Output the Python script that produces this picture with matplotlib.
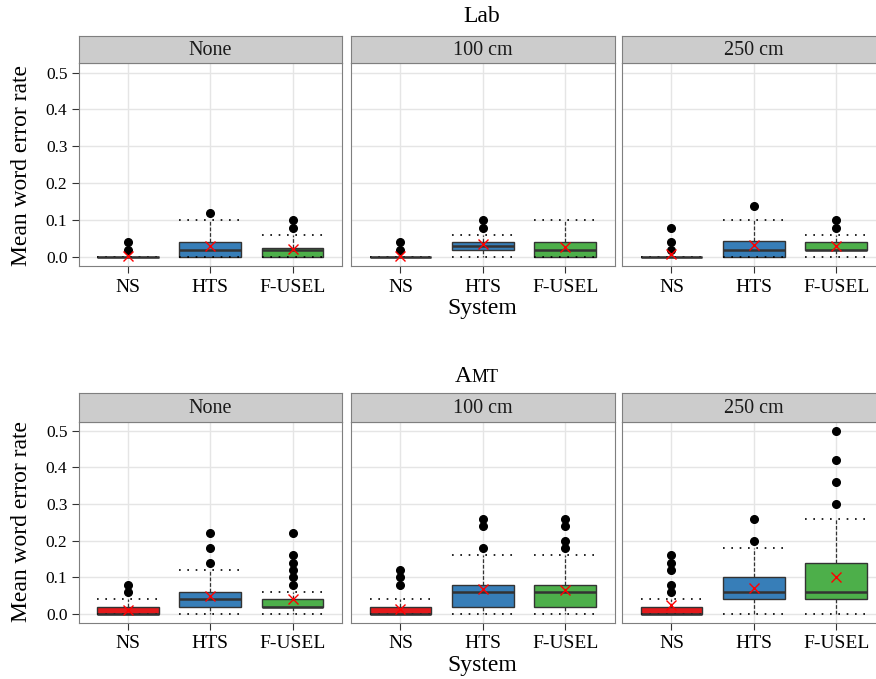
import numpy as np
import matplotlib
matplotlib.use('Agg')
import matplotlib.pyplot as plt

plt.rcParams['font.family'] = ['Liberation Serif', 'DejaVu Serif']

systems = ['NS', 'HTS', 'F-USEL']
conditions = ['None', '100 cm', '250 cm']
colors = ['#E41A1C', '#377EB8', '#4DAF4A']

# box statistics, [condition][system]
lab_q1 = [[0, 0, 0], [0, 0.02, 0], [0, 0, 0.02]]
lab_med = [[0, 0.02, 0.02], [0, 0.03, 0.02], [0, 0.02, 0.02]]
lab_q3 = [[0, 0.04, 0.025], [0, 0.04, 0.04], [0, 0.045, 0.04]]
lab_lo = [[0, 0, 0], [0, 0, 0], [0, 0, 0]]
lab_hi = [[0, 0.10, 0.06], [0, 0.06, 0.10], [0, 0.10, 0.06]]
lab_mean = [[0.004, 0.03, 0.022], [0.003, 0.036, 0.027], [0.008, 0.033, 0.03]]
lab_out = [[[0.02, 0.04], [0.12], [0.08, 0.10]],
           [[0.02, 0.04], [0.08, 0.10], []],
           [[0.02, 0.04, 0.08], [0.14], [0.08, 0.10]]]

amt_q1 = [[0, 0.02, 0.02], [0, 0.02, 0.02], [0, 0.04, 0.04]]
amt_med = [[0, 0.04, 0.02], [0, 0.06, 0.06], [0, 0.06, 0.06]]
amt_q3 = [[0.02, 0.06, 0.04], [0.02, 0.08, 0.08], [0.02, 0.10, 0.14]]
amt_lo = [[0, 0, 0], [0, 0, 0], [0, 0, 0]]
amt_hi = [[0.04, 0.12, 0.06], [0.04, 0.16, 0.16], [0.04, 0.18, 0.26]]
amt_mean = [[0.01, 0.05, 0.04], [0.014, 0.067, 0.065], [0.025, 0.071, 0.10]]
amt_out = [[[0.06, 0.08], [0.14, 0.18, 0.22], [0.08, 0.10, 0.12, 0.14, 0.16, 0.22]],
           [[0.08, 0.10, 0.12], [0.18, 0.24, 0.26], [0.18, 0.20, 0.24, 0.26]],
           [[0.06, 0.08, 0.12, 0.14, 0.16], [0.20, 0.26], [0.30, 0.36, 0.42, 0.50]]]

yticks = [0.0, 0.1, 0.2, 0.3, 0.4, 0.5]

W, H = 876, 679
fig = plt.figure(figsize=(W / 100, H / 100), dpi=100)

panel_left = [78.5, 351, 622]
panel_w = 263.5


def draw_row(top_strip, top_panel, bottom_panel, q1, med, q3, lo, hi, mean, out):
    for c, cond in enumerate(conditions):
        x0 = panel_left[c] / W
        ax = fig.add_axes([x0, 1 - bottom_panel / H, panel_w / W, (bottom_panel - top_panel) / H])
        stats = []
        for s, name in enumerate(systems):
            stats.append(dict(q1=q1[c][s], med=med[c][s], q3=q3[c][s],
                              whislo=lo[c][s], whishi=hi[c][s],
                              mean=mean[c][s], fliers=out[c][s], label=name))
        bp = ax.bxp(stats, positions=[1, 2, 3], widths=0.75, capwidths=0.75,
                    patch_artist=True, showmeans=True,
                    boxprops=dict(edgecolor='#333333', linewidth=1.0),
                    medianprops=dict(color='#333333', linewidth=1.8),
                    whiskerprops=dict(color='#333333', linewidth=0.9, linestyle=(0, (3, 1.5))),
                    capprops=dict(color='black', linewidth=1.2, linestyle=(0, (1, 4))),
                    meanprops=dict(marker='x', markeredgecolor='red', markersize=6.5,
                                   markeredgewidth=1.0),
                    flierprops=dict(marker='o', markerfacecolor='black',
                                    markeredgecolor='black', markersize=5.5))
        for patch, col in zip(bp['boxes'], colors):
            patch.set_facecolor(col)
        ax.set_xlim(0.4, 3.6)
        ax.set_ylim(-0.025, 0.525)
        ax.set_yticks(yticks)
        ax.set_xticks([1, 2, 3])
        ax.set_xticklabels(systems, fontsize=14)
        ax.grid(True, color='#E5E5E5', linewidth=1.0)
        ax.set_axisbelow(True)
        for sp in ax.spines.values():
            sp.set_color('#7F7F7F')
        ax.tick_params(axis='x', length=5, color='#333333', pad=4)
        if c == 0:
            ax.set_yticklabels(['%.1f' % t for t in yticks], fontsize=12.5)
            ax.tick_params(axis='y', length=5, color='#333333', pad=3)
        else:
            ax.tick_params(axis='y', length=0, labelleft=False)

        sax = fig.add_axes([x0, 1 - top_panel / H, panel_w / W, (top_panel - top_strip) / H])
        sax.set_facecolor('#CCCCCC')
        sax.set_xticks([])
        sax.set_yticks([])
        for sp in sax.spines.values():
            sp.set_color('#7F7F7F')
        sax.text(0.5, 0.45, cond, ha='center', va='center', fontsize=14.5,
                 color='#1A1A1A', transform=sax.transAxes)


draw_row(35.7, 63.3, 266.5, lab_q1, lab_med, lab_q3, lab_lo, lab_hi, lab_mean, lab_out)
draw_row(393.3, 421.7, 623, amt_q1, amt_med, amt_q3, amt_lo, amt_hi, amt_mean, amt_out)

cx = 482 / W
fig.text(cx, 1 - 17 / H, 'Lab', ha='center', va='center', fontsize=17)
fig.text(cx - 0.012, 1 - 376 / H, 'A', ha='right', va='center', fontsize=17)
fig.text(cx - 0.012, 1 - 377.5 / H, 'MT', ha='left', va='center', fontsize=13)

fig.text(cx, 1 - 309 / H, 'System', ha='center', va='center', fontsize=17)
fig.text(cx, 1 - 665 / H, 'System', ha='center', va='center', fontsize=17)

fig.text(22 / W, 1 - 165 / H, 'Mean word error rate', rotation=90,
         ha='center', va='center', fontsize=17)
fig.text(22 / W, 1 - 522 / H, 'Mean word error rate', rotation=90,
         ha='center', va='center', fontsize=17)

fig.savefig('out.png', dpi=100)
